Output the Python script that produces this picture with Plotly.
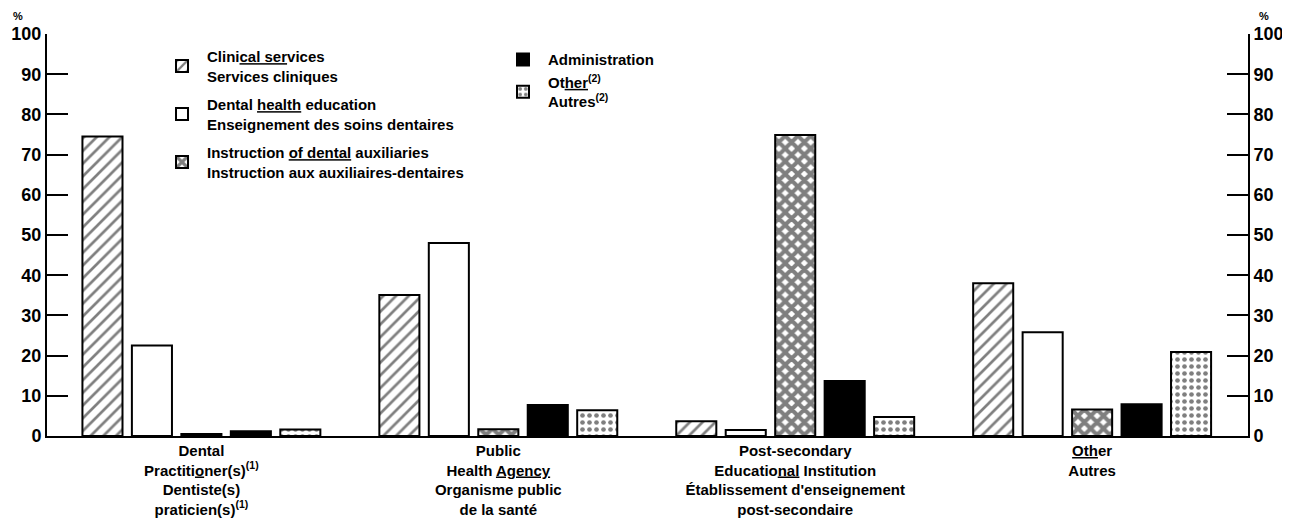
import plotly.graph_objects as go

# ---------------- data ----------------
categories = [
    "Dental<br>Practiti<u>o</u>ner(s)<sup>(1)</sup><br>Dentiste(s)<br>praticien(s)<sup>(1)</sup>",
    "Public<br>Health <u>Agency</u><br>Organisme public<br>de la santé",
    "Post-secondary<br>Educatio<u>nal</u> Institution<br>Établissement d'enseignement<br>post-secondaire",
    "<u>Oth</u>er<br>Autres",
]

series_names = [
    "Clini<u>cal ser</u>vices<br>Services cliniques",
    "Dental <u>health</u> education<br>Enseignement des soins dentaires",
    "Instruction <u>of dental</u> auxiliaries<br>Instruction aux auxiliaires-dentaires",
    "Administration",
    "Ot<u>her</u><sup>(2)</sup><br>Autres<sup>(2)</sup>",
]

clinical = [74.5, 35.1, 3.7, 38.0]
education = [22.5, 48.0, 1.5, 25.8]
instruction = [0.5, 1.7, 74.9, 6.6]
administration = [1.2, 7.7, 13.7, 7.9]
other = [1.6, 6.4, 4.7, 20.9]

y_ticks = [0, 10, 20, 30, 40, 50, 60, 70, 80, 90, 100]

# ---------------- styles ----------------
FONT = "Liberation Sans, Arial, Helvetica, sans-serif"
styles = [
    dict(color="white", shape="/", size=9, solidity=0.3, legend="legend"),
    dict(color="white", shape="", size=8, solidity=0.2, legend="legend"),
    dict(color="white", shape="x", size=9, solidity=0.7, legend="legend"),
    dict(color="black", shape="", size=8, solidity=0.2, legend="legend2"),
    dict(color="white", shape=".", size=7, solidity=0.35, legend="legend2"),
]
values = [clinical, education, instruction, administration, other]

fig = go.Figure()
for name, vals, st in zip(series_names, values, styles):
    fig.add_trace(
        go.Bar(
            x=categories,
            y=vals,
            name=name,
            legend=st["legend"],
            legendgroup=name,
            marker=dict(
                color=st["color"],
                line=dict(color="black", width=2),
                pattern=dict(
                    shape=st["shape"],
                    fgcolor="black",
                    bgcolor=st["color"],
                    size=st["size"],
                    solidity=st["solidity"],
                    fillmode="overlay",
                ),
            ),
            hoverinfo="x+y",
        )
    )

# empty trace so that the right-hand (mirror) percentage axis is drawn
fig.add_trace(go.Scatter(x=[], y=[], yaxis="y2", showlegend=False, hoverinfo="skip"))

axis_common = dict(
    range=[0, 100],
    tickvals=y_ticks,
    ticks="inside",
    ticklen=21,
    tickwidth=2,
    tickcolor="black",
    showline=True,
    linewidth=2,
    linecolor="black",
    showgrid=False,
    zeroline=False,
    automargin=False,
    tickfont=dict(family=FONT, size=18, color="black", weight="bold"),
    fixedrange=True,
)

# the page body has an 8px default margin, so the figure is sized to fit the window
fig.update_layout(
    width=1282,
    height=512,
    margin=dict(l=39, r=42, t=26, b=84, autoexpand=False),
    paper_bgcolor="white",
    plot_bgcolor="white",
    font=dict(family=FONT, color="black"),
    barmode="group",
    bargap=0.167,
    bargroupgap=0.19,
    xaxis=dict(
        range=[-0.52, 3.525],
        showline=True,
        linewidth=2,
        linecolor="black",
        ticks="",
        showgrid=False,
        automargin=False,
        tickfont=dict(family=FONT, size=15, color="black", weight="bold"),
        fixedrange=True,
    ),
    yaxis=dict(side="left", **axis_common),
    yaxis2=dict(side="right", overlaying="y", anchor="x", **axis_common),
    legend=dict(
        x=0.0916, y=0.985, xanchor="left", yanchor="top",
        bgcolor="rgba(0,0,0,0)",
        font=dict(family=FONT, size=15, color="black", weight="bold"),
        itemwidth=40,
        traceorder="grouped",
        tracegroupgap=6,
    ),
    legend2=dict(
        x=0.3755, y=0.977, xanchor="left", yanchor="top",
        bgcolor="rgba(0,0,0,0)",
        font=dict(family=FONT, size=15, color="black", weight="bold"),
        itemwidth=40,
        traceorder="grouped",
        tracegroupgap=0,
    ),
    annotations=[
        dict(text="<b>%</b>", xref="paper", yref="paper", x=-0.03, y=1,
             yanchor="bottom", yshift=10, showarrow=False,
             font=dict(family=FONT, size=11, color="black")),
        dict(text="<b>%</b>", xref="paper", yref="paper", x=1.0195, y=1,
             yanchor="bottom", yshift=10, showarrow=False,
             font=dict(family=FONT, size=11, color="black")),
    ],
)

fig.write_html("out.html")
